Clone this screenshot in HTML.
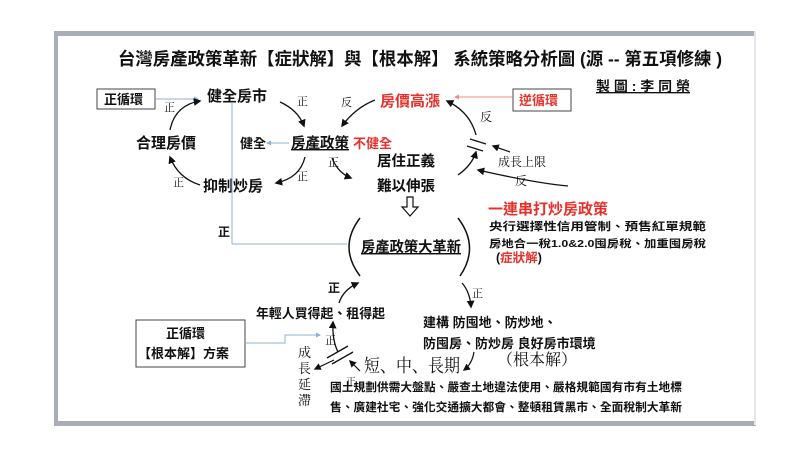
<!DOCTYPE html>
<html><head><meta charset="utf-8"><style>
html,body{margin:0;padding:0;background:#fff;width:800px;height:449px;overflow:hidden}
svg{display:block}
text{font-family:"Liberation Sans","Noto Sans CJK TC",sans-serif;font-weight:bold;fill:#111}
.s{font-family:"Liberation Serif","Noto Serif CJK SC",serif;font-weight:normal}
.r{fill:#e8302a}
</style></head><body>
<svg width="800" height="449" viewBox="0 0 800 449" xmlns="http://www.w3.org/2000/svg">
<defs>
<marker id="a" viewBox="0 0 10 10" refX="8" refY="5" markerWidth="6" markerHeight="6" orient="auto"><path d="M0,0L10,5L0,10z" fill="#111"/></marker>
<marker id="b" viewBox="0 0 10 10" refX="8" refY="5" markerWidth="5" markerHeight="5" orient="auto"><path d="M0,0L10,5L0,10z" fill="#8fb0d6"/></marker>
<marker id="c" viewBox="0 0 10 10" refX="8" refY="5" markerWidth="5" markerHeight="5" orient="auto"><path d="M0,0L10,5L0,10z" fill="#f08a88"/></marker>
</defs>
<rect x="54" y="31" width="702" height="5" fill="#a9adb6"/>
<rect x="54" y="31" width="4" height="394" fill="#a9adb6"/>
<rect x="54" y="421" width="702" height="5" fill="#a9adb6"/>
<rect x="754" y="31" width="2" height="394" fill="#e4e6ea"/>

<text x="118" y="65" font-size="17.5" textLength="604" lengthAdjust="spacingAndGlyphs">台灣房產政策革新【症狀解】與【根本解】 系統策略分析圖 (源 -- 第五項修練 )</text>
<text x="596" y="91" font-size="13.5" text-decoration="underline" textLength="94" lengthAdjust="spacingAndGlyphs">製 圖 : 李 同 榮</text>

<rect x="97" y="89" width="58" height="20" fill="none" stroke="#444"/>
<text x="104" y="104" font-size="13">正循環</text>
<line x1="156" y1="99" x2="198" y2="99" stroke="#8fb0d6" marker-end="url(#b)"/>
<text x="207" y="101" font-size="15">健全房市</text>
<text x="240" y="148" font-size="13">健全</text>
<text x="291" y="148" font-size="14.5" text-decoration="underline">房產政策</text>
<line x1="289" y1="143" x2="267" y2="143" stroke="#8fb0d6" marker-end="url(#b)"/>
<text x="353" y="148" font-size="13" class="r">不健全</text>
<text x="136" y="148" font-size="15">合理房價</text>
<text x="203" y="191" font-size="15">抑制炒房</text>
<path d="M280,102 Q298,110 304,126" fill="none" stroke="#111" stroke-width="1.3" marker-end="url(#a)"/>
<path d="M305,157 Q300,178 276,183" fill="none" stroke="#111" stroke-width="1.3" marker-end="url(#a)"/>
<path d="M200,185 Q178,178 170,157" fill="none" stroke="#111" stroke-width="1.3" marker-end="url(#a)"/>
<path d="M170,130 Q175,105 200,101" fill="none" stroke="#111" stroke-width="1.3" marker-end="url(#a)"/>
<text x="297" y="105" font-size="11" class="s">正</text>
<text x="164" y="111" font-size="11" class="s">正</text>
<text x="173" y="186" font-size="11" class="s">正</text>
<text x="297" y="180" font-size="11" class="s">正</text>
<text x="328" y="166" font-size="11" class="s">正</text>
<path d="M332,158 Q338,173 351,178" fill="none" stroke="#111" stroke-width="1.3" marker-end="url(#a)"/>

<text x="380" y="106" font-size="15" class="r">房價高漲</text>
<rect x="513" y="89" width="58" height="22" fill="none" stroke="#444"/>
<text x="519" y="105" font-size="13" class="r">逆循環</text>
<line x1="512" y1="97" x2="455" y2="97" stroke="#f08a88" marker-end="url(#c)"/>
<path d="M375,100 Q355,108 342,126" fill="none" stroke="#111" stroke-width="1.3" marker-end="url(#a)"/>
<text x="341" y="106" font-size="11" class="s">反</text>
<path d="M476,135 Q470,112 447,101" fill="none" stroke="#111" stroke-width="1.3" marker-end="url(#a)"/>
<text x="480" y="121" font-size="12" class="s">反</text>
<line x1="470" y1="139" x2="486" y2="144" stroke="#111" stroke-width="1.3"/>
<line x1="467" y1="146" x2="483" y2="151" stroke="#111" stroke-width="1.3"/>
<line x1="510" y1="152" x2="493" y2="146" stroke="#111" stroke-width="1.2" marker-end="url(#a)"/>
<text x="498" y="166" font-size="12" class="s">成長上限</text>
<path d="M458,175 Q472,165 476,152" fill="none" stroke="#111" stroke-width="1.3" marker-end="url(#a)"/>
<path d="M568,186 Q535,183 478,170" fill="none" stroke="#111" stroke-width="1.3" marker-end="url(#a)"/>
<text x="515" y="185" font-size="12" class="s">反</text>
<text x="377" y="166" font-size="14.5">居住正義</text>
<text x="377" y="191" font-size="14.5">難以伸張</text>
<path d="M407,197h6v10h5l-8,9l-8,-9h5z" fill="#fff" stroke="#111" stroke-width="1.2"/>

<text x="488" y="214" font-size="15" class="r" textLength="120" lengthAdjust="spacingAndGlyphs">一連串打炒房政策</text>
<text x="489" y="230" font-size="11" textLength="217" lengthAdjust="spacingAndGlyphs">央行選擇性信用管制、預售紅單規範</text>
<text x="489" y="247" font-size="10.5" textLength="217" lengthAdjust="spacingAndGlyphs">房地合一稅1.0&amp;2.0囤房稅、加重囤房稅</text>
<text x="496" y="262" font-size="12.5">(<tspan class="r">症狀解</tspan>)</text>

<line x1="232" y1="102" x2="232" y2="244" stroke="#8fb0d6"/>
<line x1="232" y1="244" x2="347" y2="244" stroke="#8fb0d6"/>
<text x="218" y="236" font-size="12">正</text>
<path d="M360,218 Q338,247 360,276" fill="none" stroke="#111" stroke-width="1.5"/>
<path d="M458,218 Q480,247 460,276" fill="none" stroke="#111" stroke-width="1.5"/>
<text x="361" y="252" font-size="14.5" text-decoration="underline" textLength="100" lengthAdjust="spacingAndGlyphs">房產政策大革新</text>

<text x="328" y="292" font-size="12">正</text>
<path d="M339,303 Q343,290 358,283" fill="none" stroke="#111" stroke-width="1.3" marker-end="url(#a)"/>
<path d="M462,283 Q470,292 471,307" fill="none" stroke="#111" stroke-width="1.3" marker-end="url(#a)"/>
<text x="472" y="297" font-size="11" class="s">正</text>
<text x="256" y="318" font-size="13" textLength="129" lengthAdjust="spacingAndGlyphs">年輕人買得起、租得起</text>
<text x="423" y="327" font-size="13">建構 防囤地、防炒地、</text>
<text x="423" y="348" font-size="13">防囤房、防炒房 良好房市環境</text>
<text x="497" y="365" font-size="16" class="s">（根本解）</text>

<rect x="136" y="320" width="109" height="47" fill="none" stroke="#444"/>
<text x="166" y="338" font-size="13">正循環</text>
<text x="138" y="358" font-size="13">【根本解】方案</text>
<polyline points="246,343 285,343 285,335 320,335" fill="none" stroke="#8fb0d6" marker-end="url(#b)"/>
<text x="325" y="344" font-size="11" class="s">正</text>
<path d="M338,352 Q332,340 333,322" fill="none" stroke="#111" stroke-width="1.3" marker-end="url(#a)"/>
<line x1="327" y1="358" x2="348" y2="346" stroke="#111" stroke-width="1.3"/>
<line x1="332" y1="364" x2="353" y2="352" stroke="#111" stroke-width="1.3"/>
<line x1="334" y1="360" x2="315" y2="369" stroke="#111" stroke-width="1.2" marker-end="url(#a)"/>
<line x1="360" y1="371" x2="350" y2="361" stroke="#111" stroke-width="1.2" marker-end="url(#a)"/>
<text x="346" y="385" font-size="10" class="s">正</text>
<text x="298" y="357" font-size="13" class="s">成</text>
<text x="298" y="373" font-size="13" class="s">長</text>
<text x="298" y="389" font-size="13" class="s">延</text>
<text x="298" y="405" font-size="13" class="s">滯</text>
<text x="364" y="372" font-size="18" class="s" textLength="96" lengthAdjust="spacingAndGlyphs">短、中、長期</text>
<path d="M474,352 Q472,364 464,370" fill="none" stroke="#111" stroke-width="1.2" marker-end="url(#a)"/>
<text x="330" y="391" font-size="11.5" textLength="352" lengthAdjust="spacingAndGlyphs">國土規劃供需大盤點、嚴查土地違法使用、嚴格規範國有市有土地標</text>
<text x="330" y="411" font-size="11.5" textLength="352" lengthAdjust="spacingAndGlyphs">售、廣建社宅、強化交通擴大都會、整頓租賃黑市、全面稅制大革新</text>
</svg>
</body></html>
